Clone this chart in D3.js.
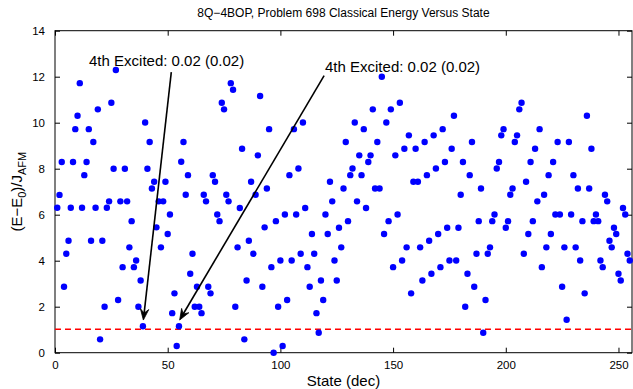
<!DOCTYPE html>
<html>
<head>
<meta charset="utf-8">
<script src="https://cdn.jsdelivr.net/npm/d3@7"></script>
<style>
  html, body { margin: 0; padding: 0; background: #fff; }
  svg { display: block; font-family: "Liberation Sans", Arial, Helvetica, sans-serif; }
</style>
</head>
<body>
<svg id="chart" width="633" height="389"></svg>
<script>
// ---------------- data ----------------
const titleText = "8Q\u22124BOP, Problem 698 Classical Energy Versus State";
const xLabel = "State (dec)";
const xTicks = [0, 50, 100, 150, 200, 250];
const yTicks = [0, 2, 4, 6, 8, 10, 12, 14];
const thresholdValue = 1.02;

// energies (E-E0)/J_AFM, one per state, plotted at x = 1..255
const energies = [
  6.30, 6.86, 8.29, 2.87, 4.30, 4.87, 6.30, 8.29, 9.72, 10.30,
  11.72, 6.30, 7.72, 8.29, 9.72, 4.87, 9.16, 6.30, 10.58, 0.58,
  4.87, 2.00, 6.30, 6.58, 10.87, 8.00, 12.29, 2.29, 6.58, 3.72,
  8.00, 6.58, 4.58, 5.72, 3.72, 4.01, 2.00, 3.14, 1.15, 10.01,
  8.00, 9.16, 7.14, 7.43, 5.45, 6.58, 4.58, 6.58, 7.43, 5.16,
  6.01, 1.72, 2.58, 0.29, 1.15, 8.30, 9.16, 6.87, 7.72, 3.43,
  4.30, 2.00, 2.87, 2.00, 1.72, 6.87, 6.58, 2.87, 2.58, 7.72,
  7.43, 6.01, 5.72, 10.87, 10.58, 6.87, 6.58, 11.72, 11.43, 2.00,
  4.58, 6.29, 8.87, 0.58, 3.14, 4.87, 7.43, 4.30, 6.87, 8.58,
  11.16, 2.87, 5.45, 7.14, 9.72, 3.72, 0.00, 5.72, 2.00, 4.01,
  0.29, 6.01, 2.29, 7.72, 4.01, 9.72, 6.01, 8.01, 4.30, 10.01,
  6.29, 3.72, 2.87, 5.16, 4.30, 1.72, 0.87, 3.14, 2.29, 6.01,
  5.16, 7.43, 6.58, 4.01, 3.14, 5.43, 4.58, 7.14, 9.16, 5.72,
  7.72, 8.01, 10.01, 6.58, 8.58, 7.72, 9.72, 6.29, 8.29, 8.58,
  10.58, 7.14, 9.16, 7.14, 12.00, 5.16, 10.01, 5.72, 10.58, 3.72,
  8.58, 6.01, 10.87, 4.01, 8.87, 4.58, 9.45, 2.58, 7.43, 8.87,
  7.43, 4.58, 3.14, 9.16, 7.72, 4.87, 3.43, 9.45, 8.01, 5.16,
  3.72, 9.72, 8.29, 5.43, 4.01, 8.87, 10.30, 4.01, 5.43, 6.87,
  8.29, 2.00, 3.43, 7.72, 9.16, 2.87, 4.30, 5.72, 7.14, 0.87,
  2.29, 4.30, 4.58, 5.72, 6.01, 8.01, 8.29, 9.45, 9.72, 5.43,
  5.72, 6.87, 7.14, 9.16, 9.45, 10.58, 10.87, 4.30, 7.43, 5.16,
  8.29, 5.72, 8.87, 6.58, 9.72, 3.72, 6.87, 4.58, 7.72, 5.16,
  8.29, 6.01, 9.16, 6.01, 2.87, 4.58, 1.43, 9.16, 6.01, 7.72,
  4.58, 7.14, 4.01, 5.72, 2.58, 10.30, 7.14, 8.87, 5.72, 6.01,
  5.72, 4.01, 3.72, 6.87, 6.58, 4.87, 4.58, 5.43, 5.16, 3.43,
  3.14, 6.29, 6.01, 4.30, 4.01
];
const states = energies.map((_, i) => i + 1);

// annotations: label, label anchor (data), arrow tail (data), arrow tip (data)
const annLabels = ["4th Excited: 0.02 (0.02)", "4th Excited: 0.02 (0.02)"];
const annTextX = [15.1, 119.8];
const annTextY = [12.45, 12.22];
const annTailX = [51.6, 119.4];
const annTailY = [12.2, 12.05];
const annTipX = [39.2, 55.3];
const annTipY = [1.42, 1.42];

// ---------------- layout ----------------
const W = 633, H = 389;
const m = { left: 55, right: 1, top: 30.7, bottom: 36.3 };
const svg = d3.select("#chart");
const x = d3.scaleLinear().domain([0, 256]).range([m.left, W - m.right]);
const y = d3.scaleLinear().domain([0, 14]).range([H - m.bottom, m.top]);
const fsTick = 11.5, fsTitle = 12, fsLabel = 15, fsAnn = 15;

// axes (MATLAB style: ticks inside, on all sides)
const tickLen = 5;
const gx = svg.append("g").attr("transform", `translate(0,${y(0)})`)
  .call(d3.axisBottom(x).tickValues(xTicks).tickSizeInner(-tickLen).tickSizeOuter(0).tickPadding(tickLen + 3));
const gxTop = svg.append("g").attr("transform", `translate(0,${y(14)})`)
  .call(d3.axisTop(x).tickValues(xTicks).tickSizeInner(-tickLen).tickSizeOuter(0).tickFormat(""));
const gy = svg.append("g").attr("transform", `translate(${x(0)},0)`)
  .call(d3.axisLeft(y).tickValues(yTicks).tickSizeInner(-tickLen).tickSizeOuter(0).tickPadding(tickLen + 5));
const gyR = svg.append("g").attr("transform", `translate(${x(256)},0)`)
  .call(d3.axisRight(y).tickValues(yTicks).tickSizeInner(-tickLen).tickSizeOuter(0).tickFormat(""));
[gx, gxTop, gy, gyR].forEach(g => {
  g.select(".domain").remove();
  g.selectAll("line").attr("stroke", "#000").attr("stroke-width", 1);
  g.selectAll("text").attr("fill", "#000").style("font-size", fsTick + "px")
    .style("font-family", '"Liberation Sans", Arial, sans-serif');
});

// box
svg.append("rect")
  .attr("x", x(0)).attr("y", y(14))
  .attr("width", x(256) - x(0)).attr("height", y(0) - y(14))
  .attr("fill", "none").attr("stroke", "#000").attr("stroke-width", 1);

// threshold line
svg.append("line")
  .attr("x1", x(0)).attr("x2", x(256))
  .attr("y1", y(thresholdValue)).attr("y2", y(thresholdValue))
  .attr("stroke", "#ff0000").attr("stroke-width", 1.6)
  .attr("stroke-dasharray", "6,4");

// points
svg.append("g").selectAll("circle")
  .data(energies)
  .join("circle")
  .attr("cx", (d, i) => x(states[i]))
  .attr("cy", d => y(d))
  .attr("r", 3.2)
  .attr("fill", "#0000ff");

// title
svg.append("text")
  .attr("x", (x(0) + x(256)) / 2).attr("y", 17)
  .attr("text-anchor", "middle").style("font-size", fsTitle + "px")
  .text(titleText);

// x label
svg.append("text")
  .attr("x", (x(0) + x(256)) / 2).attr("y", 386)
  .attr("text-anchor", "middle").style("font-size", fsLabel + "px")
  .text(xLabel);

// y label with subscripts
const yl = svg.append("text")
  .attr("transform", `translate(22,${(y(0) + y(14)) / 2}) rotate(-90)`)
  .attr("text-anchor", "middle").style("font-size", fsLabel + "px");
yl.append("tspan").text("(E\u2212E");
yl.append("tspan").attr("dy", 4).style("font-size", "11px").text("0");
yl.append("tspan").attr("dy", -4).text(")/J");
yl.append("tspan").attr("dy", 4).style("font-size", "11px").text("AFM");

// annotations
annLabels.forEach((lab, i) => {
  svg.append("text")
    .attr("x", x(annTextX[i])).attr("y", y(annTextY[i]))
    .style("font-size", fsAnn + "px").text(lab);
  const x1 = x(annTailX[i]), y1 = y(annTailY[i]);
  const x2 = x(annTipX[i]), y2 = y(annTipY[i]);
  const ang = Math.atan2(y2 - y1, x2 - x1);
  const L = 11, hw = 4.2, back = 7;
  svg.append("line")
    .attr("x1", x1).attr("y1", y1)
    .attr("x2", x2 - Math.cos(ang) * back).attr("y2", y2 - Math.sin(ang) * back)
    .attr("stroke", "#000").attr("stroke-width", 1.6);
  const pA = [x2 - L * Math.cos(ang) + hw * Math.sin(ang), y2 - L * Math.sin(ang) - hw * Math.cos(ang)];
  const pB = [x2 - L * Math.cos(ang) - hw * Math.sin(ang), y2 - L * Math.sin(ang) + hw * Math.cos(ang)];
  const pC = [x2 - back * Math.cos(ang), y2 - back * Math.sin(ang)];
  svg.append("path")
    .attr("d", `M${x2},${y2}L${pA[0]},${pA[1]}L${pC[0]},${pC[1]}L${pB[0]},${pB[1]}Z`)
    .attr("fill", "#000").attr("stroke", "#000").attr("stroke-width", 0.8);
});
</script>
</body>
</html>
